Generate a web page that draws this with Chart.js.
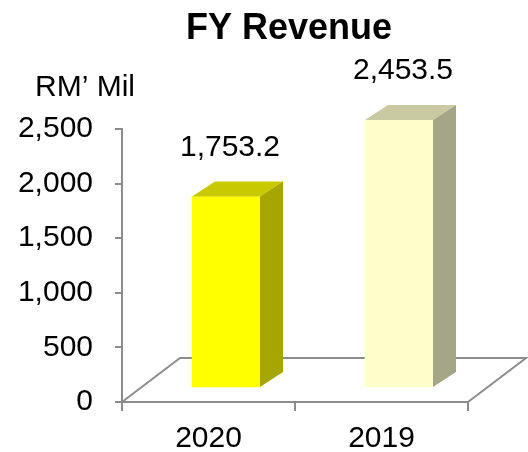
<!DOCTYPE html>
<html>
<head>
<meta charset="utf-8">
<script src="https://cdn.jsdelivr.net/npm/chart.js@4"></script>
<style>
  body { margin: 0; background: #fff; }
</style>
</head>
<body>
<canvas id="chart" width="528" height="452"></canvas>
<script>
const years = ["2020", "2019"];
const revenue = [1753.2, 2453.5];
const frontColors = ["#ffff00", "#ffffcc"];
const topColors = ["#c9c900", "#cacaa2"];
const sideColors = ["#a6a600", "#a5a587"];
const chartTitle = "FY Revenue";
const unitLabel = "RM\u2019 Mil";

const font = "'Liberation Sans', Arial, sans-serif";
const gray = "#8c8c8c";

// 3D offsets (pixels)
const barShift = { x: 17.5, y: -14 };
const barDepth = { x: 23, y: -15 };
const floorDepth = { x: 58, y: -44 };

const ctx = document.getElementById("chart").getContext("2d");

const fake3d = {
  id: "fake3d",
  beforeDatasetsDraw: (chart) => {
    const c = chart.ctx;
    const a = chart.chartArea;
    c.save();
    c.strokeStyle = gray;
    c.lineWidth = 2;
    c.beginPath();
    c.moveTo(a.left, a.bottom);
    c.lineTo(a.left + floorDepth.x, a.bottom + floorDepth.y);
    c.lineTo(a.right + floorDepth.x, a.bottom + floorDepth.y);
    c.lineTo(a.right, a.bottom);
    c.stroke();
    c.restore();
  },
  beforeDatasetDraw: (chart) => {
    chart.ctx.save();
    chart.ctx.translate(barShift.x, barShift.y);
  },
  afterDatasetDraw: (chart, args) => {
    const c = chart.ctx;
    args.meta.data.forEach((bar, i) => {
      const p = bar.getProps(["x", "y", "base", "width"], true);
      const l = p.x - p.width / 2;
      const r = p.x + p.width / 2;
      c.fillStyle = topColors[i];
      c.beginPath();
      c.moveTo(l, p.y);
      c.lineTo(l + barDepth.x, p.y + barDepth.y);
      c.lineTo(r + barDepth.x, p.y + barDepth.y);
      c.lineTo(r, p.y);
      c.closePath();
      c.fill();
      c.fillStyle = sideColors[i];
      c.beginPath();
      c.moveTo(r, p.y);
      c.lineTo(r + barDepth.x, p.y + barDepth.y);
      c.lineTo(r + barDepth.x, p.base + barDepth.y);
      c.lineTo(r, p.base);
      c.closePath();
      c.fill();
    });
    c.restore();
  },
  afterDatasetsDraw: (chart) => {
    const c = chart.ctx;
    const a = chart.chartArea;
    c.save();
    c.font = "30px " + font;
    c.fillStyle = "#000";
    c.textAlign = "center";
    c.textBaseline = "middle";
    chart.getDatasetMeta(0).data.forEach((bar, i) => {
      const label = revenue[i].toLocaleString("en-US", { minimumFractionDigits: 1 });
      c.fillText(label, bar.x + barShift.x + 4, bar.y + barShift.y - 49);
    });
    c.fillText(unitLabel, chart.scales.y.right - 37, a.top - 41);

    c.font = "bold 36px " + font;
    c.textBaseline = "alphabetic";
    c.fillText(chartTitle, (a.left + a.right) / 2 - 6, 39);
    c.restore();
  },
};

const chart = new Chart(ctx, {
  type: "bar",
  data: {
    labels: years,
    datasets: [
      {
        data: revenue,
        backgroundColor: frontColors,
        barThickness: 68,
        clip: false,
      },
    ],
  },
  options: {
    responsive: false,
    animation: false,
    layout: {
      padding: { left: 10, right: 60, top: 129, bottom: 0 },
    },
    scales: {
      x: {
        afterFit: (s) => {
          s.height = 50;
        },
        grid: {
          drawOnChartArea: false,
          color: gray,
          lineWidth: 2,
          tickLength: 9,
        },
        border: { color: gray, width: 2 },
        ticks: {
          color: "#000",
          padding: 10,
          font: { family: font, size: 30 },
        },
      },
      y: {
        min: 0,
        max: 2500,
        afterFit: (s) => {
          s.width = 112;
        },
        grid: {
          drawOnChartArea: false,
          color: gray,
          lineWidth: 2,
          tickLength: 7,
        },
        border: { color: gray, width: 2 },
        ticks: {
          stepSize: 500,
          color: "#000",
          padding: 22,
          font: { family: font, size: 30 },
        },
      },
    },
    plugins: {
      legend: {
        display: false,
      },
      tooltip: {
        enabled: false,
      },
    },
  },
  plugins: [fake3d],
});
</script>
</body>
</html>
